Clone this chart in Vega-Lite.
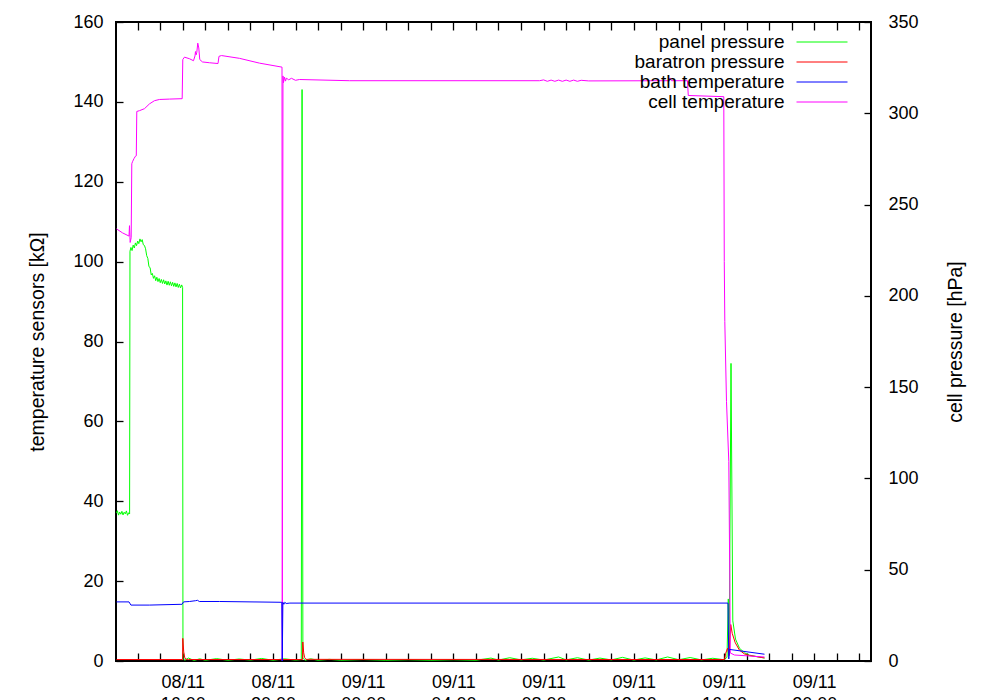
{
  "$schema": "https://vega.github.io/schema/vega-lite/v6.json",
  "width": 755,
  "height": 639,
  "autosize": {"type": "none"},
  "padding": {"left": 116, "top": 22, "right": 129, "bottom": 39},
  "config": {
    "view": {"stroke": "#000", "strokeWidth": 2},
    "font": "Liberation Sans",
    "axis": {"domain": false, "grid": false, "labelColor": "#000", "titleColor": "#000", "labelFontSize": 18, "titleFontSize": 19.5, "titleFontWeight": "normal", "tickColor": "#000", "tickWidth": 1.3, "labelFont": "Liberation Sans", "titleFont": "Liberation Sans"}
  },
  "datasets": {
    "press": [
      {"t": "2011-11-08T13:03:36", "s": "panel pressure", "v": 81.0},
      {"t": "2011-11-08T13:06:00", "s": "panel pressure", "v": 82.3},
      {"t": "2011-11-08T13:09:00", "s": "panel pressure", "v": 79.9},
      {"t": "2011-11-08T13:12:00", "s": "panel pressure", "v": 81.6},
      {"t": "2011-11-08T13:15:00", "s": "panel pressure", "v": 80.4},
      {"t": "2011-11-08T13:18:00", "s": "panel pressure", "v": 82.0},
      {"t": "2011-11-08T13:21:00", "s": "panel pressure", "v": 80.0},
      {"t": "2011-11-08T13:24:00", "s": "panel pressure", "v": 81.5},
      {"t": "2011-11-08T13:27:00", "s": "panel pressure", "v": 80.6},
      {"t": "2011-11-08T13:30:00", "s": "panel pressure", "v": 82.2},
      {"t": "2011-11-08T13:33:00", "s": "panel pressure", "v": 79.8},
      {"t": "2011-11-08T13:36:00", "s": "panel pressure", "v": 81.2},
      {"t": "2011-11-08T13:38:30", "s": "panel pressure", "v": 80.5},
      {"t": "2011-11-08T13:39:30", "s": "panel pressure", "v": 224.4},
      {"t": "2011-11-08T13:42:00", "s": "panel pressure", "v": 226.5},
      {"t": "2011-11-08T13:45:00", "s": "panel pressure", "v": 224.8},
      {"t": "2011-11-08T13:48:00", "s": "panel pressure", "v": 227.8},
      {"t": "2011-11-08T13:51:00", "s": "panel pressure", "v": 226.2},
      {"t": "2011-11-08T13:54:00", "s": "panel pressure", "v": 229.0},
      {"t": "2011-11-08T13:57:00", "s": "panel pressure", "v": 227.5},
      {"t": "2011-11-08T14:00:00", "s": "panel pressure", "v": 230.0},
      {"t": "2011-11-08T14:03:00", "s": "panel pressure", "v": 228.6},
      {"t": "2011-11-08T14:06:00", "s": "panel pressure", "v": 231.2},
      {"t": "2011-11-08T14:09:00", "s": "panel pressure", "v": 229.6},
      {"t": "2011-11-08T14:12:00", "s": "panel pressure", "v": 230.8},
      {"t": "2011-11-08T14:15:00", "s": "panel pressure", "v": 228.0},
      {"t": "2011-11-08T14:18:00", "s": "panel pressure", "v": 227.6},
      {"t": "2011-11-08T14:21:00", "s": "panel pressure", "v": 225.8},
      {"t": "2011-11-08T14:24:00", "s": "panel pressure", "v": 222.0},
      {"t": "2011-11-08T14:27:00", "s": "panel pressure", "v": 220.5},
      {"t": "2011-11-08T14:30:00", "s": "panel pressure", "v": 216.0},
      {"t": "2011-11-08T14:33:00", "s": "panel pressure", "v": 215.5},
      {"t": "2011-11-08T14:36:00", "s": "panel pressure", "v": 211.5},
      {"t": "2011-11-08T14:39:00", "s": "panel pressure", "v": 212.3},
      {"t": "2011-11-08T14:42:00", "s": "panel pressure", "v": 209.6},
      {"t": "2011-11-08T14:45:00", "s": "panel pressure", "v": 211.0},
      {"t": "2011-11-08T14:48:00", "s": "panel pressure", "v": 208.3},
      {"t": "2011-11-08T14:51:00", "s": "panel pressure", "v": 210.2},
      {"t": "2011-11-08T14:54:00", "s": "panel pressure", "v": 207.8},
      {"t": "2011-11-08T14:57:00", "s": "panel pressure", "v": 209.5},
      {"t": "2011-11-08T15:00:00", "s": "panel pressure", "v": 207.2},
      {"t": "2011-11-08T15:03:00", "s": "panel pressure", "v": 209.0},
      {"t": "2011-11-08T15:06:00", "s": "panel pressure", "v": 206.8},
      {"t": "2011-11-08T15:09:00", "s": "panel pressure", "v": 208.8},
      {"t": "2011-11-08T15:12:00", "s": "panel pressure", "v": 206.5},
      {"t": "2011-11-08T15:15:00", "s": "panel pressure", "v": 208.2},
      {"t": "2011-11-08T15:18:00", "s": "panel pressure", "v": 205.9},
      {"t": "2011-11-08T15:21:00", "s": "panel pressure", "v": 208.0},
      {"t": "2011-11-08T15:24:00", "s": "panel pressure", "v": 205.8},
      {"t": "2011-11-08T15:27:00", "s": "panel pressure", "v": 207.7},
      {"t": "2011-11-08T15:30:00", "s": "panel pressure", "v": 205.5},
      {"t": "2011-11-08T15:33:00", "s": "panel pressure", "v": 207.4},
      {"t": "2011-11-08T15:36:00", "s": "panel pressure", "v": 205.2},
      {"t": "2011-11-08T15:39:00", "s": "panel pressure", "v": 207.1},
      {"t": "2011-11-08T15:42:00", "s": "panel pressure", "v": 204.9},
      {"t": "2011-11-08T15:45:00", "s": "panel pressure", "v": 206.8},
      {"t": "2011-11-08T15:48:00", "s": "panel pressure", "v": 204.6},
      {"t": "2011-11-08T15:51:00", "s": "panel pressure", "v": 206.4},
      {"t": "2011-11-08T15:54:00", "s": "panel pressure", "v": 204.3},
      {"t": "2011-11-08T15:57:00", "s": "panel pressure", "v": 206.0},
      {"t": "2011-11-08T15:59:30", "s": "panel pressure", "v": 204.6},
      {"t": "2011-11-08T16:00:30", "s": "panel pressure", "v": 1.5},
      {"t": "2011-11-08T16:05:00", "s": "panel pressure", "v": 0.4},
      {"t": "2011-11-08T16:15:00", "s": "panel pressure", "v": 1.6},
      {"t": "2011-11-08T16:30:00", "s": "panel pressure", "v": 0.3},
      {"t": "2011-11-08T16:45:00", "s": "panel pressure", "v": 1.2},
      {"t": "2011-11-08T17:00:00", "s": "panel pressure", "v": 0.4},
      {"t": "2011-11-08T17:30:00", "s": "panel pressure", "v": 1.3},
      {"t": "2011-11-08T18:00:00", "s": "panel pressure", "v": 0.4},
      {"t": "2011-11-08T18:30:00", "s": "panel pressure", "v": 1.1},
      {"t": "2011-11-08T19:00:00", "s": "panel pressure", "v": 0.5},
      {"t": "2011-11-08T19:30:00", "s": "panel pressure", "v": 1.4},
      {"t": "2011-11-08T20:00:00", "s": "panel pressure", "v": 0.4},
      {"t": "2011-11-08T20:30:00", "s": "panel pressure", "v": 1.2},
      {"t": "2011-11-08T21:00:00", "s": "panel pressure", "v": 0.5},
      {"t": "2011-11-08T21:15:18", "s": "panel pressure", "v": 0.8},
      {"t": "2011-11-08T21:17:24", "s": "panel pressure", "v": 313},
      {"t": "2011-11-08T21:19:36", "s": "panel pressure", "v": 1.6},
      {"t": "2011-11-08T21:25:00", "s": "panel pressure", "v": 0.4},
      {"t": "2011-11-08T21:40:00", "s": "panel pressure", "v": 1.2},
      {"t": "2011-11-08T22:00:00", "s": "panel pressure", "v": 0.4},
      {"t": "2011-11-08T22:30:00", "s": "panel pressure", "v": 0.9},
      {"t": "2011-11-08T23:00:00", "s": "panel pressure", "v": 0.4},
      {"t": "2011-11-09T00:00:00", "s": "panel pressure", "v": 0.8},
      {"t": "2011-11-09T01:00:00", "s": "panel pressure", "v": 0.4},
      {"t": "2011-11-09T02:00:00", "s": "panel pressure", "v": 0.7},
      {"t": "2011-11-09T03:00:00", "s": "panel pressure", "v": 0.4},
      {"t": "2011-11-09T04:00:00", "s": "panel pressure", "v": 0.7},
      {"t": "2011-11-09T05:00:00", "s": "panel pressure", "v": 0.4},
      {"t": "2011-11-09T05:40:00", "s": "panel pressure", "v": 1.6},
      {"t": "2011-11-09T06:00:00", "s": "panel pressure", "v": 0.5},
      {"t": "2011-11-09T06:30:00", "s": "panel pressure", "v": 1.8},
      {"t": "2011-11-09T07:00:00", "s": "panel pressure", "v": 0.6},
      {"t": "2011-11-09T07:30:00", "s": "panel pressure", "v": 1.5},
      {"t": "2011-11-09T08:00:00", "s": "panel pressure", "v": 0.5},
      {"t": "2011-11-09T08:40:00", "s": "panel pressure", "v": 2.2},
      {"t": "2011-11-09T09:00:00", "s": "panel pressure", "v": 0.6},
      {"t": "2011-11-09T09:30:00", "s": "panel pressure", "v": 1.8},
      {"t": "2011-11-09T10:00:00", "s": "panel pressure", "v": 0.5},
      {"t": "2011-11-09T10:30:00", "s": "panel pressure", "v": 1.6},
      {"t": "2011-11-09T11:00:00", "s": "panel pressure", "v": 0.6},
      {"t": "2011-11-09T11:30:00", "s": "panel pressure", "v": 2.0},
      {"t": "2011-11-09T12:00:00", "s": "panel pressure", "v": 0.5},
      {"t": "2011-11-09T12:30:00", "s": "panel pressure", "v": 1.7},
      {"t": "2011-11-09T13:00:00", "s": "panel pressure", "v": 0.6},
      {"t": "2011-11-09T13:30:00", "s": "panel pressure", "v": 2.2},
      {"t": "2011-11-09T14:00:00", "s": "panel pressure", "v": 0.7},
      {"t": "2011-11-09T14:30:00", "s": "panel pressure", "v": 1.9},
      {"t": "2011-11-09T15:00:00", "s": "panel pressure", "v": 0.6},
      {"t": "2011-11-09T15:30:00", "s": "panel pressure", "v": 1.5},
      {"t": "2011-11-09T16:00:00", "s": "panel pressure", "v": 0.7},
      {"t": "2011-11-09T16:08:00", "s": "panel pressure", "v": 2.0},
      {"t": "2011-11-09T16:11:30", "s": "panel pressure", "v": 34},
      {"t": "2011-11-09T16:14:06", "s": "panel pressure", "v": 6},
      {"t": "2011-11-09T16:18:42", "s": "panel pressure", "v": 163},
      {"t": "2011-11-09T16:23:30", "s": "panel pressure", "v": 22},
      {"t": "2011-11-09T16:30:42", "s": "panel pressure", "v": 12},
      {"t": "2011-11-09T16:41:18", "s": "panel pressure", "v": 7},
      {"t": "2011-11-09T16:54:36", "s": "panel pressure", "v": 4.5},
      {"t": "2011-11-09T17:07:54", "s": "panel pressure", "v": 3.2},
      {"t": "2011-11-09T17:47:48", "s": "panel pressure", "v": 1.6},
      {"t": "2011-11-08T13:03:36", "s": "baratron pressure", "v": 0.8},
      {"t": "2011-11-08T15:59:30", "s": "baratron pressure", "v": 0.8},
      {"t": "2011-11-08T16:00:00", "s": "baratron pressure", "v": 12.4},
      {"t": "2011-11-08T16:02:30", "s": "baratron pressure", "v": 5},
      {"t": "2011-11-08T16:05:00", "s": "baratron pressure", "v": 2},
      {"t": "2011-11-08T16:08:00", "s": "baratron pressure", "v": 1},
      {"t": "2011-11-08T16:15:00", "s": "baratron pressure", "v": 0.8},
      {"t": "2011-11-08T21:18:30", "s": "baratron pressure", "v": 0.8},
      {"t": "2011-11-08T21:19:18", "s": "baratron pressure", "v": 10.4},
      {"t": "2011-11-08T21:21:42", "s": "baratron pressure", "v": 4.5},
      {"t": "2011-11-08T21:24:18", "s": "baratron pressure", "v": 1.8},
      {"t": "2011-11-08T21:27:48", "s": "baratron pressure", "v": 0.9},
      {"t": "2011-11-09T16:01:42", "s": "baratron pressure", "v": 0.8},
      {"t": "2011-11-09T16:04:24", "s": "baratron pressure", "v": 4.2},
      {"t": "2011-11-09T16:09:42", "s": "baratron pressure", "v": 7.0},
      {"t": "2011-11-09T16:13:42", "s": "baratron pressure", "v": 3.0},
      {"t": "2011-11-09T16:18:00", "s": "baratron pressure", "v": 20},
      {"t": "2011-11-09T16:22:00", "s": "baratron pressure", "v": 15.1},
      {"t": "2011-11-09T16:30:00", "s": "baratron pressure", "v": 10},
      {"t": "2011-11-09T16:41:00", "s": "baratron pressure", "v": 6},
      {"t": "2011-11-09T16:54:00", "s": "baratron pressure", "v": 3.9},
      {"t": "2011-11-09T17:08:00", "s": "baratron pressure", "v": 3.0},
      {"t": "2011-11-09T17:47:48", "s": "baratron pressure", "v": 1.7}
    ],
    "temps": [
      {"t": "2011-11-08T13:03:36", "s": "cell temperature", "v": 108.2},
      {"t": "2011-11-08T13:19:36", "s": "cell temperature", "v": 107.2},
      {"t": "2011-11-08T13:36:54", "s": "cell temperature", "v": 106.4},
      {"t": "2011-11-08T13:38:12", "s": "cell temperature", "v": 109.0},
      {"t": "2011-11-08T13:40:00", "s": "cell temperature", "v": 104.8},
      {"t": "2011-11-08T13:42:42", "s": "cell temperature", "v": 106.0},
      {"t": "2011-11-08T13:44:18", "s": "cell temperature", "v": 124.5},
      {"t": "2011-11-08T13:46:12", "s": "cell temperature", "v": 125.0},
      {"t": "2011-11-08T13:50:12", "s": "cell temperature", "v": 125.8},
      {"t": "2011-11-08T13:54:06", "s": "cell temperature", "v": 126.4},
      {"t": "2011-11-08T13:56:18", "s": "cell temperature", "v": 126.5},
      {"t": "2011-11-08T13:57:36", "s": "cell temperature", "v": 137.6},
      {"t": "2011-11-08T14:04:48", "s": "cell temperature", "v": 137.8},
      {"t": "2011-11-08T14:18:06", "s": "cell temperature", "v": 138.3},
      {"t": "2011-11-08T14:31:24", "s": "cell temperature", "v": 139.5},
      {"t": "2011-11-08T14:44:42", "s": "cell temperature", "v": 140.3},
      {"t": "2011-11-08T14:58:00", "s": "cell temperature", "v": 140.6},
      {"t": "2011-11-08T15:24:36", "s": "cell temperature", "v": 140.7},
      {"t": "2011-11-08T15:58:24", "s": "cell temperature", "v": 140.8},
      {"t": "2011-11-08T16:00:00", "s": "cell temperature", "v": 150.6},
      {"t": "2011-11-08T16:04:30", "s": "cell temperature", "v": 151.2},
      {"t": "2011-11-08T16:17:48", "s": "cell temperature", "v": 150.8},
      {"t": "2011-11-08T16:28:30", "s": "cell temperature", "v": 150.3},
      {"t": "2011-11-08T16:32:30", "s": "cell temperature", "v": 151.5},
      {"t": "2011-11-08T16:33:48", "s": "cell temperature", "v": 152.6},
      {"t": "2011-11-08T16:35:42", "s": "cell temperature", "v": 151.8},
      {"t": "2011-11-08T16:37:18", "s": "cell temperature", "v": 152.4},
      {"t": "2011-11-08T16:39:54", "s": "cell temperature", "v": 154.7},
      {"t": "2011-11-08T16:42:36", "s": "cell temperature", "v": 153.5},
      {"t": "2011-11-08T16:45:12", "s": "cell temperature", "v": 150.6},
      {"t": "2011-11-08T16:52:24", "s": "cell temperature", "v": 150.0},
      {"t": "2011-11-08T17:11:00", "s": "cell temperature", "v": 149.8},
      {"t": "2011-11-08T17:33:42", "s": "cell temperature", "v": 149.6},
      {"t": "2011-11-08T17:36:18", "s": "cell temperature", "v": 151.4},
      {"t": "2011-11-08T17:43:00", "s": "cell temperature", "v": 151.6},
      {"t": "2011-11-08T18:30:54", "s": "cell temperature", "v": 150.9},
      {"t": "2011-11-08T19:24:06", "s": "cell temperature", "v": 149.7},
      {"t": "2011-11-08T20:24:00", "s": "cell temperature", "v": 148.7},
      {"t": "2011-11-08T20:24:42", "s": "cell temperature", "v": 0},
      {"t": "2011-11-08T20:26:36", "s": "cell temperature", "v": 146.5},
      {"t": "2011-11-08T20:27:54", "s": "cell temperature", "v": 144.8},
      {"t": "2011-11-08T20:30:36", "s": "cell temperature", "v": 146.2},
      {"t": "2011-11-08T20:33:18", "s": "cell temperature", "v": 145.2},
      {"t": "2011-11-08T20:35:54", "s": "cell temperature", "v": 146.0},
      {"t": "2011-11-08T20:41:12", "s": "cell temperature", "v": 145.5},
      {"t": "2011-11-08T20:49:12", "s": "cell temperature", "v": 145.9},
      {"t": "2011-11-08T20:59:54", "s": "cell temperature", "v": 145.4},
      {"t": "2011-11-08T21:10:30", "s": "cell temperature", "v": 145.6},
      {"t": "2011-11-08T23:23:36", "s": "cell temperature", "v": 145.3},
      {"t": "2011-11-09T07:49:06", "s": "cell temperature", "v": 145.3},
      {"t": "2011-11-09T08:00:00", "s": "cell temperature", "v": 145.5},
      {"t": "2011-11-09T08:10:00", "s": "cell temperature", "v": 145.15},
      {"t": "2011-11-09T08:20:00", "s": "cell temperature", "v": 145.45},
      {"t": "2011-11-09T08:30:00", "s": "cell temperature", "v": 145.15},
      {"t": "2011-11-09T08:40:00", "s": "cell temperature", "v": 145.45},
      {"t": "2011-11-09T08:50:00", "s": "cell temperature", "v": 145.15},
      {"t": "2011-11-09T09:00:00", "s": "cell temperature", "v": 145.45},
      {"t": "2011-11-09T09:10:00", "s": "cell temperature", "v": 145.15},
      {"t": "2011-11-09T09:20:00", "s": "cell temperature", "v": 145.45},
      {"t": "2011-11-09T09:30:00", "s": "cell temperature", "v": 145.15},
      {"t": "2011-11-09T09:40:00", "s": "cell temperature", "v": 145.4},
      {"t": "2011-11-09T10:00:00", "s": "cell temperature", "v": 145.25},
      {"t": "2011-11-09T13:32:18", "s": "cell temperature", "v": 145.3},
      {"t": "2011-11-09T13:36:18", "s": "cell temperature", "v": 146.0},
      {"t": "2011-11-09T13:40:18", "s": "cell temperature", "v": 145.3},
      {"t": "2011-11-09T14:22:54", "s": "cell temperature", "v": 145.3},
      {"t": "2011-11-09T14:25:00", "s": "cell temperature", "v": 141.6},
      {"t": "2011-11-09T15:59:30", "s": "cell temperature", "v": 141.3},
      {"t": "2011-11-09T16:00:48", "s": "cell temperature", "v": 100},
      {"t": "2011-11-09T16:02:12", "s": "cell temperature", "v": 85},
      {"t": "2011-11-09T16:06:42", "s": "cell temperature", "v": 65},
      {"t": "2011-11-09T16:12:48", "s": "cell temperature", "v": 50},
      {"t": "2011-11-09T16:15:30", "s": "cell temperature", "v": 20},
      {"t": "2011-11-09T16:16:48", "s": "cell temperature", "v": 2},
      {"t": "2011-11-09T16:28:00", "s": "cell temperature", "v": 1.5},
      {"t": "2011-11-09T17:47:48", "s": "cell temperature", "v": 1.0},
      {"t": "2011-11-08T13:03:36", "s": "bath temperature", "v": 14.8},
      {"t": "2011-11-08T13:36:54", "s": "bath temperature", "v": 14.8},
      {"t": "2011-11-08T13:42:00", "s": "bath temperature", "v": 14.0},
      {"t": "2011-11-08T14:31:00", "s": "bath temperature", "v": 14.0},
      {"t": "2011-11-08T15:58:00", "s": "bath temperature", "v": 14.2},
      {"t": "2011-11-08T16:02:00", "s": "bath temperature", "v": 14.8},
      {"t": "2011-11-08T16:18:00", "s": "bath temperature", "v": 14.9},
      {"t": "2011-11-08T16:34:00", "s": "bath temperature", "v": 15.1},
      {"t": "2011-11-08T16:39:00", "s": "bath temperature", "v": 15.2},
      {"t": "2011-11-08T16:44:00", "s": "bath temperature", "v": 14.9},
      {"t": "2011-11-08T17:38:00", "s": "bath temperature", "v": 14.9},
      {"t": "2011-11-08T20:23:30", "s": "bath temperature", "v": 14.7},
      {"t": "2011-11-08T20:24:42", "s": "bath temperature", "v": 0},
      {"t": "2011-11-08T20:26:20", "s": "bath temperature", "v": 14.7},
      {"t": "2011-11-08T20:29:00", "s": "bath temperature", "v": 14.2},
      {"t": "2011-11-08T20:31:30", "s": "bath temperature", "v": 14.7},
      {"t": "2011-11-08T20:35:00", "s": "bath temperature", "v": 14.4},
      {"t": "2011-11-08T20:45:00", "s": "bath temperature", "v": 14.5},
      {"t": "2011-11-09T16:10:42", "s": "bath temperature", "v": 14.5},
      {"t": "2011-11-09T16:12:48", "s": "bath temperature", "v": 0.5},
      {"t": "2011-11-09T16:14:30", "s": "bath temperature", "v": 2.9},
      {"t": "2011-11-09T17:47:48", "s": "bath temperature", "v": 1.7}
    ]
  },
  "layer": [
    {
      "data": {"name": "press"},
      "mark": {"type": "line", "strokeWidth": 1},
      "encoding": {
        "x": {"field": "t", "type": "temporal",
          "scale": {"domain": [{"year": 2011, "month": 11, "date": 8, "hours": 13, "minutes": 2, "seconds": 18}, {"year": 2011, "month": 11, "date": 9, "hours": 22, "minutes": 31, "seconds": 12}], "nice": false},
          "axis": {"orient": "top", "labels": false, "title": null, "tickSize": -8,
            "encode": {"ticks": {"update": {"y2": {"signal": "hours(datum.value) % 4 == 0 ? 8 : 4"}}}},
            "values": [{"year": 2011, "month": 11, "date": 8, "hours": 14}, {"year": 2011, "month": 11, "date": 8, "hours": 15}, {"year": 2011, "month": 11, "date": 8, "hours": 16}, {"year": 2011, "month": 11, "date": 8, "hours": 17}, {"year": 2011, "month": 11, "date": 8, "hours": 18}, {"year": 2011, "month": 11, "date": 8, "hours": 19}, {"year": 2011, "month": 11, "date": 8, "hours": 20}, {"year": 2011, "month": 11, "date": 8, "hours": 21}, {"year": 2011, "month": 11, "date": 8, "hours": 22}, {"year": 2011, "month": 11, "date": 8, "hours": 23}, {"year": 2011, "month": 11, "date": 9, "hours": 0}, {"year": 2011, "month": 11, "date": 9, "hours": 1}, {"year": 2011, "month": 11, "date": 9, "hours": 2}, {"year": 2011, "month": 11, "date": 9, "hours": 3}, {"year": 2011, "month": 11, "date": 9, "hours": 4}, {"year": 2011, "month": 11, "date": 9, "hours": 5}, {"year": 2011, "month": 11, "date": 9, "hours": 6}, {"year": 2011, "month": 11, "date": 9, "hours": 7}, {"year": 2011, "month": 11, "date": 9, "hours": 8}, {"year": 2011, "month": 11, "date": 9, "hours": 9}, {"year": 2011, "month": 11, "date": 9, "hours": 10}, {"year": 2011, "month": 11, "date": 9, "hours": 11}, {"year": 2011, "month": 11, "date": 9, "hours": 12}, {"year": 2011, "month": 11, "date": 9, "hours": 13}, {"year": 2011, "month": 11, "date": 9, "hours": 14}, {"year": 2011, "month": 11, "date": 9, "hours": 15}, {"year": 2011, "month": 11, "date": 9, "hours": 16}, {"year": 2011, "month": 11, "date": 9, "hours": 17}, {"year": 2011, "month": 11, "date": 9, "hours": 18}, {"year": 2011, "month": 11, "date": 9, "hours": 19}, {"year": 2011, "month": 11, "date": 9, "hours": 20}, {"year": 2011, "month": 11, "date": 9, "hours": 21}, {"year": 2011, "month": 11, "date": 9, "hours": 22}]}},
        "y": {"field": "v", "type": "quantitative", "scale": {"domain": [0, 350], "nice": false},
          "axis": {"orient": "right", "title": "cell pressure [hPa]", "titleAngle": 270, "titleBaseline": "top", "values": [0, 50, 100, 150, 200, 250, 300, 350], "tickSize": -7, "labelPadding": 24, "titlePadding": 28}},
        "color": {"field": "s", "type": "nominal",
          "scale": {"domain": ["panel pressure", "baratron pressure", "bath temperature", "cell temperature"], "range": ["#00ff00", "#ff0000", "#0000ff", "#ff00ff"]},
          "legend": {"orient": "none", "legendX": 696.5, "legendY": 10.5, "title": null, "symbolType": "M-5.1,0H5.1", "symbolSize": 100, "symbolStrokeWidth": 1, "labelAlign": "right", "labelOffset": -47, "labelFontSize": 19, "labelColor": "#000", "rowPadding": -0.5}}
      }
    },
    {
      "data": {"name": "temps"},
      "mark": {"type": "line", "strokeWidth": 1},
      "encoding": {
        "x": {"field": "t", "type": "temporal",
          "scale": {"domain": [{"year": 2011, "month": 11, "date": 8, "hours": 13, "minutes": 2, "seconds": 18}, {"year": 2011, "month": 11, "date": 9, "hours": 22, "minutes": 31, "seconds": 12}], "nice": false},
          "axis": {"orient": "bottom", "title": null, "tickSize": -8,
            "encode": {"ticks": {"update": {"y2": {"signal": "hours(datum.value) % 4 == 0 ? -8 : -4"}}}},
            "values": [{"year": 2011, "month": 11, "date": 8, "hours": 14}, {"year": 2011, "month": 11, "date": 8, "hours": 15}, {"year": 2011, "month": 11, "date": 8, "hours": 16}, {"year": 2011, "month": 11, "date": 8, "hours": 17}, {"year": 2011, "month": 11, "date": 8, "hours": 18}, {"year": 2011, "month": 11, "date": 8, "hours": 19}, {"year": 2011, "month": 11, "date": 8, "hours": 20}, {"year": 2011, "month": 11, "date": 8, "hours": 21}, {"year": 2011, "month": 11, "date": 8, "hours": 22}, {"year": 2011, "month": 11, "date": 8, "hours": 23}, {"year": 2011, "month": 11, "date": 9, "hours": 0}, {"year": 2011, "month": 11, "date": 9, "hours": 1}, {"year": 2011, "month": 11, "date": 9, "hours": 2}, {"year": 2011, "month": 11, "date": 9, "hours": 3}, {"year": 2011, "month": 11, "date": 9, "hours": 4}, {"year": 2011, "month": 11, "date": 9, "hours": 5}, {"year": 2011, "month": 11, "date": 9, "hours": 6}, {"year": 2011, "month": 11, "date": 9, "hours": 7}, {"year": 2011, "month": 11, "date": 9, "hours": 8}, {"year": 2011, "month": 11, "date": 9, "hours": 9}, {"year": 2011, "month": 11, "date": 9, "hours": 10}, {"year": 2011, "month": 11, "date": 9, "hours": 11}, {"year": 2011, "month": 11, "date": 9, "hours": 12}, {"year": 2011, "month": 11, "date": 9, "hours": 13}, {"year": 2011, "month": 11, "date": 9, "hours": 14}, {"year": 2011, "month": 11, "date": 9, "hours": 15}, {"year": 2011, "month": 11, "date": 9, "hours": 16}, {"year": 2011, "month": 11, "date": 9, "hours": 17}, {"year": 2011, "month": 11, "date": 9, "hours": 18}, {"year": 2011, "month": 11, "date": 9, "hours": 19}, {"year": 2011, "month": 11, "date": 9, "hours": 20}, {"year": 2011, "month": 11, "date": 9, "hours": 21}, {"year": 2011, "month": 11, "date": 9, "hours": 22}],
            "labelExpr": "hours(datum.value) % 4 == 0 ? [timeFormat(datum.value, '%d/%m'), timeFormat(datum.value, '%H:%M')] : ''",
            "labelOverlap": false, "labelFlush": false, "labelBound": false, "labelPadding": 20, "labelLineHeight": 22}},
        "y": {"field": "v", "type": "quantitative", "scale": {"domain": [0, 160], "nice": false},
          "axis": {"orient": "left", "title": "temperature sensors [kΩ]", "values": [0, 20, 40, 60, 80, 100, 120, 140, 160], "tickSize": -7, "labelPadding": 20, "titlePadding": 25}},
        "color": {"field": "s", "type": "nominal"}
      }
    }
  ],
  "resolve": {"scale": {"y": "independent"}, "axis": {"x": "independent", "y": "independent"}}
}
